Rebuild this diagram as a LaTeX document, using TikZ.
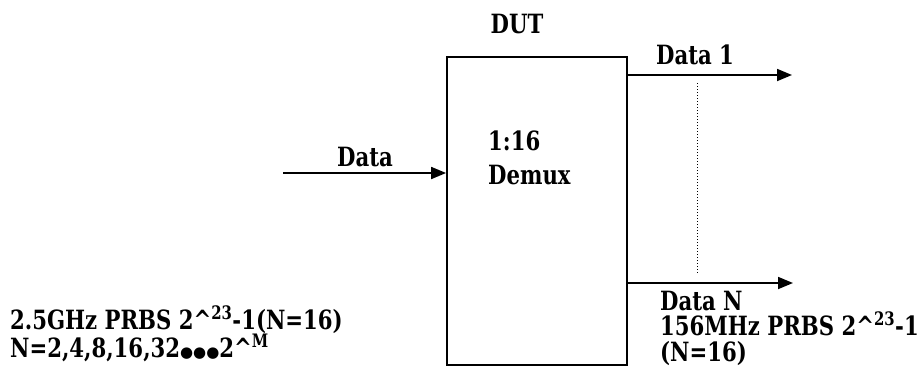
\documentclass[tikz,border=0pt]{standalone}
\usepackage{fontspec}
\setmainfont{DejaVu Serif}[FakeStretch=0.8]
\newfontfamily\symfont{DejaVu Sans}
\usetikzlibrary{arrows.meta}
\newcommand{\mydots}{{\symfont\fontsize{15}{15}\selectfont ●●●}}
\begin{document}
\begin{tikzpicture}[x=1pt,y=-1pt,
  lbl/.style={inner sep=0pt,font=\fontsize{26.5}{30}\selectfont\bfseries},
  wire/.style={line width=1.8pt,-{Triangle[length=15pt,width=12pt]}},
  boxstyle/.style={draw,line width=1.8pt,minimum width=180pt,minimum height=308pt,inner sep=0pt}]
\useasboundingbox (0,0) rectangle (920,386);
\node[boxstyle] (dut) at (537,211) {};
\node[lbl,anchor=base] (dutl) at (517,33) {DUT};
\node[lbl,anchor=base west] (r1) at (488,150) {1:16};
\node[lbl,anchor=base west] (r2) at (488,184) {Demux};
\coordinate (in) at (283,173);
\draw[wire] (in) -- (in -| dut.west);
\node[lbl,anchor=base] (din) at (365,166) {Data};
\coordinate (o1) at (792,75);
\coordinate (oN) at (793,283);
\draw[wire] (o1 -| dut.east) -- (o1);
\draw[wire] (oN -| dut.east) -- (oN);
\coordinate (d1) at (697,83);
\coordinate (d2) at (697,273);
\draw[line width=1pt,dotted] (d1) -- (d2);
\node[lbl,anchor=base west] (l1) at (656,64) {Data 1};
\node[lbl,anchor=base west] (lN) at (660,310) {Data N};
\node[lbl,anchor=base west] (lR) at (660,335) {156MHz PRBS 2\textasciicircum\textsuperscript{23}-1};
\node[lbl,anchor=base west] (lR2) at (660,361) {(N=16)};
\node[lbl,anchor=base west] (s1) at (10,329) {2.5GHz PRBS 2\textasciicircum\textsuperscript{23}-1(N=16)};
\node[lbl,anchor=base west] (s2) at (10,357) {N=2,4,8,16,32\mydots2\textasciicircum\textsuperscript{M}};
\end{tikzpicture}
\end{document}
